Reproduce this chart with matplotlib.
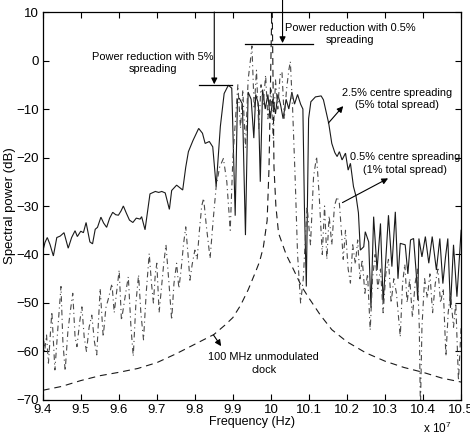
import matplotlib
matplotlib.use("Agg")
import matplotlib.pyplot as plt

plt.rcParams['font.family'] = ['Liberation Sans', 'DejaVu Sans']
plt.rcParams['mathtext.fontset'] = 'custom'
plt.rcParams['mathtext.rm'] = 'Liberation Sans'
plt.rcParams['lines.scale_dashes'] = False

# ---- data (frequency in units of 1e7 Hz, power in dB) ----
f_wide = [9.400, 9.406, 9.412, 9.419, 9.428, 9.437, 9.446, 9.456, 9.467, 9.476,
          9.485, 9.491, 9.500, 9.507, 9.514, 9.524, 9.531, 9.538, 9.544, 9.553,
          9.560, 9.568, 9.576, 9.584, 9.592, 9.599, 9.606, 9.612, 9.620, 9.628,
          9.637, 9.646, 9.656, 9.660, 9.669, 9.682, 9.696, 9.705, 9.713, 9.722,
          9.733, 9.739, 9.752, 9.768, 9.776, 9.783, 9.795, 9.810, 9.820, 9.827,
          9.838, 9.847, 9.856, 9.867, 9.877, 9.888, 9.897, 9.906, 9.912, 9.917,
          9.925, 9.933, 9.940, 9.948, 9.955, 9.960, 9.967, 9.972, 9.978, 9.985,
          9.992, 9.998, 10.005, 10.012, 10.018, 10.025, 10.032, 10.040, 10.047, 10.055,
          10.062, 10.070, 10.078, 10.084, 10.088, 10.093, 10.099, 10.105, 10.117, 10.132,
          10.138, 10.152, 10.160, 10.168, 10.174, 10.180, 10.187, 10.196, 10.203, 10.209,
          10.217, 10.224, 10.230, 10.235, 10.244, 10.248, 10.257, 10.263, 10.270, 10.279,
          10.288, 10.295, 10.309, 10.318, 10.327, 10.334, 10.340, 10.353, 10.360, 10.367,
          10.375, 10.382, 10.386, 10.389, 10.397, 10.406, 10.415, 10.424, 10.435, 10.444,
          10.452, 10.459, 10.465, 10.472, 10.480, 10.489, 10.500]
p_wide = [-39.4, -37.5, -36.5, -37.9, -40.3, -36.5, -36.2, -35.5, -38.7, -36.5,
          -35.1, -36.3, -35.2, -35.5, -33.4, -37.4, -37.8, -34.8, -34.4, -32.3,
          -33.5, -34.4, -32.5, -31.3, -31.8, -31.9, -31.0, -30.0, -31.5, -32.9,
          -33.4, -32.5, -32.7, -32.2, -34.9, -27.5, -27.0, -27.2, -27.0, -27.3,
          -30.7, -26.8, -25.7, -26.7, -22.0, -18.8, -16.5, -14.0, -15.0, -17.1,
          -16.7, -17.8, -26.0, -13.6, -6.8, -5.1, -5.7, -32.0, -8.0, -7.8,
          -9.0, -36.0, -6.5, -8.0, -16.0, -7.0, -9.0, -25.0, -6.0, -10.0,
          -7.0, -12.0, -8.0, -11.0, -7.0, -9.0, -12.0, -8.0, -10.0, -6.5,
          -9.0, -7.0, -9.0, -10.0, -30.0, -46.6, -12.0, -8.5, -7.5, -7.3,
          -8.1, -13.0, -17.1, -19.0, -19.8, -18.8, -20.5, -19.1, -22.6, -21.2,
          -26.0, -28.1, -31.4, -39.1, -38.4, -35.3, -37.4, -51.0, -32.2, -43.2,
          -33.6, -50.0, -31.9, -42.5, -31.2, -45.0, -37.7, -38.0, -44.0, -37.0,
          -36.7, -43.9, -49.4, -36.7, -40.5, -36.3, -41.8, -36.3, -43.2, -36.7,
          -46.0, -40.5, -36.7, -51.0, -38.0, -48.7, -35.0]

f_narrow = [9.400, 9.405, 9.410, 9.415, 9.424, 9.432, 9.440, 9.448, 9.453, 9.459,
            9.466, 9.472, 9.479, 9.485, 9.490, 9.497, 9.503, 9.509, 9.515, 9.522,
            9.529, 9.536, 9.542, 9.547, 9.551, 9.555, 9.559, 9.566, 9.573, 9.582,
            9.588, 9.594, 9.601, 9.607, 9.614, 9.620, 9.625, 9.632, 9.638, 9.645,
            9.652, 9.658, 9.665, 9.672, 9.680, 9.686, 9.691, 9.696, 9.700, 9.706,
            9.712, 9.718, 9.724, 9.732, 9.739, 9.745, 9.752, 9.758, 9.764, 9.770,
            9.776, 9.782, 9.787, 9.793, 9.800, 9.806, 9.812, 9.818, 9.823, 9.830,
            9.840, 9.848, 9.856, 9.865, 9.875, 9.884, 9.893, 9.900, 9.907, 9.913,
            9.920, 9.926, 9.933, 9.940, 9.946, 9.950, 9.956, 9.962, 9.968, 9.974,
            9.980, 9.986, 9.992, 10.000, 10.006, 10.012, 10.018, 10.024, 10.029, 10.035,
            10.041, 10.047, 10.051, 10.057, 10.064, 10.070, 10.078, 10.085, 10.095, 10.104,
            10.112, 10.120, 10.127, 10.135, 10.141, 10.147, 10.153, 10.160, 10.167, 10.174,
            10.180, 10.186, 10.190, 10.196, 10.203, 10.209, 10.215, 10.222, 10.228, 10.234,
            10.240, 10.247, 10.254, 10.261, 10.267, 10.274, 10.281, 10.288, 10.295, 10.302,
            10.309, 10.316, 10.323, 10.330, 10.340, 10.346, 10.352, 10.358, 10.365, 10.372,
            10.379, 10.385, 10.390, 10.393, 10.397, 10.404, 10.411, 10.418, 10.425, 10.432,
            10.439, 10.446, 10.453, 10.460, 10.466, 10.472, 10.480, 10.486, 10.493, 10.500]
p_narrow = [-55.0, -60.0, -56.6, -62.4, -51.8, -63.8, -55.0, -46.6, -58.0, -64.0,
            -56.0, -52.0, -48.0, -57.0, -59.0, -54.0, -50.8, -57.0, -60.0, -55.0,
            -52.5, -58.0, -60.7, -53.0, -47.0, -52.0, -57.0, -51.0, -49.0, -46.0,
            -52.0, -48.0, -43.2, -53.6, -50.0, -47.0, -44.6, -55.0, -61.0, -50.0,
            -44.2, -52.0, -57.6, -48.0, -39.8, -46.0, -50.0, -44.0, -41.8, -52.0,
            -47.0, -42.0, -38.0, -46.0, -53.5, -46.0, -41.8, -47.0, -43.0, -38.0,
            -34.3, -40.0, -45.3, -42.0, -39.1, -41.0, -35.0, -30.0, -28.4, -34.0,
            -40.8, -33.0, -26.0, -22.0, -20.2, -25.0, -35.0, -20.0, -12.0, -5.0,
            -14.0, -6.0, -18.0, -4.0, 0.0, 3.0, -10.0, -2.0, -14.0, -5.0,
            -9.0, -3.0, -12.0, -6.0, -16.0, -4.0, -10.0, -3.0, -2.3, -12.0,
            -6.0, -2.0, -0.2, -10.0, -25.0, -40.0, -50.0, -45.0, -30.0, -38.0,
            -24.0, -19.8, -28.0, -40.0, -30.0, -41.0, -32.0, -38.0, -30.0, -28.1,
            -29.5, -36.0, -41.0, -35.0, -43.0, -45.9, -38.0, -42.0, -37.0, -45.0,
            -41.0, -48.0, -44.0, -55.6, -45.0, -40.0, -47.0, -43.0, -52.0, -44.0,
            -41.0, -50.0, -45.0, -48.0, -57.0, -46.0, -42.0, -50.0, -45.0, -53.0,
            -46.0, -43.0, -55.0, -72.0, -55.0, -45.0, -49.0, -44.0, -52.0, -46.0,
            -43.0, -50.0, -47.0, -61.0, -52.0, -48.0, -55.0, -50.0, -66.0, -55.0]

f_clock = [9.40, 9.45, 9.50, 9.55, 9.60, 9.65, 9.70, 9.75, 9.80, 9.85,
           9.88, 9.90, 9.92, 9.94, 9.96, 9.97, 9.98, 9.99, 9.995, 10.003,
           10.008, 10.013, 10.02, 10.04, 10.06, 10.08, 10.10, 10.13, 10.16, 10.20,
           10.25, 10.30, 10.35, 10.40, 10.45, 10.50]
p_clock = [-68.0, -67.2, -66.0, -65.0, -64.3, -63.5, -62.3, -60.5, -58.5, -56.5,
           -54.5, -53.0, -50.5, -47.3, -43.5, -41.5, -38.5, -33.0, -22.0, 14.0,
           -22.0, -30.0, -35.6, -40.0, -43.2, -46.5, -49.0, -52.5, -55.5, -58.0,
           -60.3, -62.0, -63.3, -64.3, -65.5, -66.3]

x_ticks = [9.4, 9.5, 9.6, 9.7, 9.8, 9.9, 10.0, 10.1, 10.2, 10.3, 10.4, 10.5]
x_ticklabels = ['9.4', '9.5', '9.6', '9.7', '9.8', '9.9', '10', '10.1', '10.2', '10.3', '10.4', '10.5']
y_ticks = [-70, -60, -50, -40, -30, -20, -10, 0, 10]

# ---- figure ----
fig = plt.figure(figsize=(4.70, 4.37), dpi=100)
ax = fig.add_axes([0.0909, 0.0847, 0.8902, 0.8878])

ax.plot(f_wide, p_wide, color='#1a1a1a', lw=0.8, solid_joinstyle='miter')
ax.plot(f_narrow, p_narrow, color='#4a4a4a', lw=0.8, linestyle=(0, (4, 2.5, 0.8, 2.5)))
ax.plot(f_clock, p_clock, color='#1a1a1a', lw=0.8, linestyle=(0, (5, 3.5)))

ax.set_xlim(9.4, 10.5)
ax.set_ylim(-70, 10)
ax.set_xticks(x_ticks)
ax.set_xticklabels(x_ticklabels)
ax.set_yticks(y_ticks)
ax.tick_params(direction='in', top=True, right=True, length=4, width=0.8,
               labelsize=9.5, pad=3)
for s in ax.spines.values():
    s.set_linewidth(0.9)

ax.set_xlabel('Frequency (Hz)', fontsize=9, labelpad=0)
ax.set_ylabel('Spectral power (dB)', fontsize=9.5, labelpad=0)
ax.text(0.943, -0.072, 'x 10$^{7}$', transform=ax.transAxes, ha='center', va='center',
        fontsize=8.5)

fs = 7.9
kw_txt = dict(ha='center', va='center', fontsize=fs, linespacing=1.3, multialignment='center')
arrow_kw = dict(arrowstyle='-|>', color='black', lw=0.8, mutation_scale=9, shrinkA=0, shrinkB=0)

# Power reduction annotations
ax.plot([9.812, 9.898], [-5.1, -5.1], color='black', lw=0.9)
ax.annotate('', xy=(9.851, -4.9), xytext=(9.851, 10.0), arrowprops=arrow_kw)
ax.text(9.689, -0.5, 'Power reduction with 5%\nspreading', **kw_txt)

ax.plot([9.9305, 10.1105], [3.4, 3.4], color='black', lw=0.9)
ax.annotate('', xy=(10.0305, 3.6), xytext=(10.0305, 12.5), arrowprops=arrow_kw,
            annotation_clip=False)
ax.text(10.209, 5.46, 'Power reduction with 0.5%\nspreading', **kw_txt)

ax.text(10.332, -7.9, '2.5% centre spreading\n(5% total spread)', **kw_txt)
ax.annotate('', xy=(10.19, -9.4), xytext=(10.151, -12.9), arrowprops=arrow_kw)

ax.text(10.352, -21.2, '0.5% centre spreading\n(1% total spread)', **kw_txt)
ax.annotate('', xy=(10.308, -24.3), xytext=(10.188, -29.3), arrowprops=arrow_kw)

ax.text(9.981, -62.5, '100 MHz unmodulated\nclock', **kw_txt)
ax.annotate('', xy=(9.869, -58.9), xytext=(9.849, -56.6), arrowprops=arrow_kw)

fig.savefig('out.png', dpi=100)
